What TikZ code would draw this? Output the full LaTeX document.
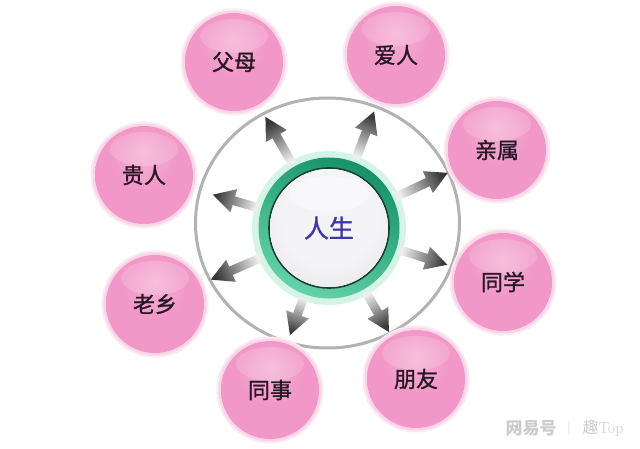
\documentclass[tikz,border=0pt]{standalone}
\usepackage{fontspec}
\newfontfamily\cjk{Noto Sans CJK SC}
\newfontfamily\cjkmed[FakeBold=1.2]{Noto Sans CJK SC}
\usetikzlibrary{calc}
\definecolor{pinkA}{RGB}{246,178,214}
\definecolor{pinkB}{RGB}{241,152,200}
\definecolor{pinkC}{RGB}{234,128,184}
\definecolor{pinkD}{RGB}{242,170,208}
\definecolor{pinkglow}{RGB}{248,214,232}
\definecolor{pinkglow2}{RGB}{252,234,243}
\definecolor{ringgray}{RGB}{178,178,178}
\definecolor{gdark}{RGB}{22,146,104}
\definecolor{glight}{RGB}{100,210,170}
\definecolor{gglow}{RGB}{214,243,232}
\definecolor{gline}{RGB}{25,62,50}
\definecolor{lifeblue}{RGB}{62,56,165}
\definecolor{discA}{RGB}{244,244,246}
\definecolor{discB}{RGB}{226,226,230}
\definecolor{discC}{RGB}{205,205,210}
\definecolor{arrowdark}{RGB}{55,55,55}
\definecolor{arrowlight}{RGB}{238,238,238}
\pgfdeclareradialshading{pinkball}{\pgfpoint{0bp}{12bp}}{color(0bp)=(pinkA); color(16bp)=(pinkB); color(36bp)=(pinkB); color(45bp)=(pinkC); color(48bp)=(pinkC); color(50bp)=(pinkD)}
\pgfdeclareradialshading{lifedisc}{\pgfpoint{0bp}{8bp}}{color(0bp)=(discA); color(20bp)=(discA); color(40bp)=(discB); color(50bp)=(discC)}
\tikzset{
  ballnode/.style={circle, minimum size=98pt, inner sep=0pt, shading=pinkball,
    font=\cjkmed\fontsize{22}{22}\selectfont, text={rgb,255:red,40;green,24;blue,38},
    path picture={\fill[white,opacity=0.16] ($(path picture bounding box.center)+(0,-26)$) ellipse (34 and 17);}},
  lifenode/.style={circle, minimum size=118pt, inner sep=0pt, shading=lifedisc,
    font=\cjkmed\fontsize{25}{25}\selectfont, text=lifeblue,
    path picture={\fill[white,opacity=0.45] ($(path picture bounding box.center)+(0,-34)$) ellipse (40 and 18);}},
  glowdisc/.style={fill=pinkglow},
  glowdisc2/.style={fill=pinkglow2},
  ringline/.style={draw=ringgray, line width=3pt},
  watermark/.style={text=gray!40, inner sep=0pt},
}
\newcommand\linkarrow[3]{%
  \pgfmathanglebetweenpoints{\pgfpointanchor{#1}{center}}{\pgfpointanchor{#2}{center}}%
  \pgfmathsetmacro\arrang{\pgfmathresult-90}%
  \pgfmathsetmacro\neckd{#3-22}%
  \coordinate (aT) at ($(#1.center)!74pt!(#2.center)$);
  \coordinate (aN) at ($(#1.center)!\neckd pt!(#2.center)$);
  \coordinate (aP) at ($(#1.center)!#3pt!(#2.center)$);
  \path[shading=axis, top color=arrowdark, bottom color=arrowlight, shading angle=\arrang]
    ($(aT)!4.5pt!90:(#2.center)$) -- ($(aN)!4.5pt!90:(#2.center)$) -- ($(aN)!12pt!90:(#2.center)$)
    -- (aP) -- ($(aN)!12pt!-90:(#2.center)$) -- ($(aN)!4.5pt!-90:(#2.center)$)
    -- ($(aT)!4.5pt!-90:(#2.center)$) -- cycle;
}
\begin{document}
\begin{tikzpicture}[x=1pt,y=-1pt]
\useasboundingbox (0,0) rectangle (640,449);
\fill[white] (0,0) rectangle (640,449);
% outer ring
\draw[ringline] (327.5,223) ellipse (132 and 125);
% pink glows
\foreach \p in {(234,62),(396,55),(497,150),(503,282),(416,379),(270,390),(155,304),(144,175)}{
  \fill[glowdisc2] \p circle (53.5);
  \fill[glowdisc] \p circle (51.5);}
% pink balls
\node[ballnode] (fumu)   at (234,62)  {父母};
\node[ballnode] (airen)  at (396,55)  {爱人};
\node[ballnode] (qinshu) at (497,150) {亲属};
\node[ballnode] (tongxue) at (503,282) {同学};
\node[ballnode] (pengyou) at (416,379) {朋友};
\node[ballnode] (tongshi) at (270,390) {同事};
\node[ballnode] (laoxiang) at (155,304) {老乡};
\node[ballnode] (guiren) at (144,175) {贵人};
% centre
\coordinate (c) at (329,228);
\fill[gglow] (c) circle (77);
\shade[top color=gdark, bottom color=glight, shading angle=-25, even odd rule] (c) circle (70.5) (c) circle (60);
\draw[gline, line width=1.6pt] (c) circle (60);
\node[lifenode] (life) at (c) {人生};
% arrows
\linkarrow{life}{fumu}{128}
\linkarrow{life}{airen}{125}
\linkarrow{life}{qinshu}{131}
\linkarrow{life}{tongxue}{124}
\linkarrow{life}{pengyou}{120}
\linkarrow{life}{tongshi}{114}
\linkarrow{life}{laoxiang}{129}
\linkarrow{life}{guiren}{121}
% watermark
\node[watermark, font=\cjk\bfseries\fontsize{17}{17}\selectfont] (wm1) at (531,428) {网易号};
\node[watermark, font=\fontsize{14}{14}\selectfont] (wm2) at (569,428) {|};
\node[watermark, font=\fontsize{16}{16}\selectfont] (wm3) at (603,428) {{\cjk 趣}Top};
\end{tikzpicture}
\end{document}
